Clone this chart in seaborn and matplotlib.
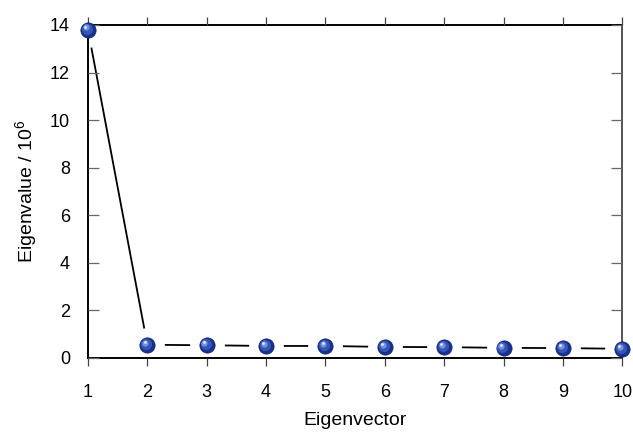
import numpy as np
import pandas as pd
import matplotlib
matplotlib.use("Agg")
import matplotlib.pyplot as plt
from matplotlib.transforms import offset_copy
import seaborn as sns

eigenvectors = [1, 2, 3, 4, 5, 6, 7, 8, 9, 10]
eigenvalues = [13.8, 0.55, 0.53, 0.50, 0.50, 0.46, 0.45, 0.42, 0.41, 0.38]
xticks = [1, 2, 3, 4, 5, 6, 7, 8, 9, 10]
yticks = [0, 2, 4, 6, 8, 10, 12, 14]

df = pd.DataFrame({"Eigenvector": eigenvectors, "Eigenvalue": eigenvalues})

sns.set_style("ticks")
plt.rcParams["font.family"] = ["Liberation Sans", "DejaVu Sans"]
plt.rcParams["mathtext.default"] = "regular"
plt.rcParams["text.color"] = "black"
plt.rcParams["axes.labelcolor"] = "black"

fig = plt.figure(figsize=(6.33, 4.38), dpi=100)
ax = fig.add_axes([0.139, 0.183, 0.844, 0.760])

# connecting line, broken near each point by a white halo
sns.lineplot(data=df, x="Eigenvector", y="Eigenvalue", ax=ax, color="black",
             linewidth=1.3, zorder=2)
ax.plot(df["Eigenvector"], df["Eigenvalue"], "o", ms=24, color="white",
        mec="white", zorder=2.1)

# shaded "sphere" markers
ax.plot(df["Eigenvector"], df["Eigenvalue"], "o", ms=11, color="#18318c",
        mec="#102570", mew=0.5, zorder=3, clip_on=False)
t1 = offset_copy(ax.transData, fig=fig, x=-0.8, y=0.8, units="points")
ax.plot(df["Eigenvector"], df["Eigenvalue"], "o", ms=8, color="#3456b8",
        mew=0, zorder=3.1, clip_on=False, transform=t1)
t2 = offset_copy(ax.transData, fig=fig, x=-1.6, y=1.6, units="points")
ax.plot(df["Eigenvector"], df["Eigenvalue"], "o", ms=4.5, color="#7891d8",
        mew=0, zorder=3.2, clip_on=False, transform=t2)
t3 = offset_copy(ax.transData, fig=fig, x=-2.0, y=2.1, units="points")
ax.plot(df["Eigenvector"], df["Eigenvalue"], "o", ms=2, color="#e6ecf9",
        mew=0, zorder=3.3, clip_on=False, transform=t3)

ax.set_xlim(1, 10)
ax.set_ylim(0, 14)
ax.set_xticks(xticks)
ax.set_yticks(yticks)
ax.set_axisbelow(False)

for side in ["left", "right", "top", "bottom"]:
    ax.spines[side].set_visible(True)
    ax.spines[side].set_linewidth(1.4)
    ax.spines[side].set_color("black")
    ax.spines[side].set_zorder(2.5)
ax.spines["right"].set_color("#555555")

ax.tick_params(axis="x", direction="out", top=True, bottom=True, length=6,
               width=0.9, color="#444444", labelsize=13, pad=13,
               labelcolor="black")
ax.tick_params(axis="y", direction="in", left=True, right=True, length=8,
               width=0.9, color="#666666", labelsize=13, pad=13,
               labelcolor="black")

ax.set_xlabel("Eigenvector", fontsize=14, labelpad=8)
ax.set_ylabel("Eigenvalue / 10$^6$", fontsize=14, labelpad=8)

fig.savefig("out.png", dpi=100)
